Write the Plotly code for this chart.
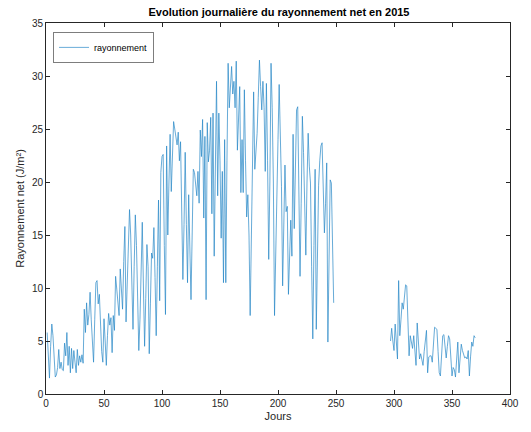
import plotly.graph_objects as go

# Segment 1: days starting at 1
seg1_start = 1
seg1_values = [
    5.8, 3.5, 1.5, 4.5, 6.6, 5.5, 4.0, 1.6, 1.8, 2.5,
    4.2, 2.4, 3.0, 2.3, 2.2, 4.8, 3.6, 5.8, 2.7, 4.5,
    2.0, 4.3, 2.4, 4.1, 3.0, 2.0, 4.2, 2.7, 3.6, 3.0,
    3.7, 2.9, 8.0, 5.8, 8.6, 6.5, 7.5, 9.6, 7.0, 4.5,
    3.0, 7.0, 10.5, 10.7, 8.5, 9.4, 5.8, 4.0, 3.0, 7.1,
    5.0, 2.7, 5.5, 7.6, 6.5, 7.2, 3.9, 7.4, 6.0, 11.1,
    9.9, 8.5, 7.4, 11.8, 9.1, 8.0, 12.5, 15.8, 6.8, 10.0,
    14.5, 17.4, 15.0, 9.0, 6.1, 12.0, 16.9, 14.0, 8.0, 4.1,
    7.0, 12.0, 16.2, 10.0, 4.5, 9.0, 14.1, 12.0, 3.8, 8.5,
    13.3, 12.8, 15.7, 11.0, 5.5, 12.0, 18.3, 8.8, 20.9, 22.4,
    22.6, 14.0, 7.5, 23.4, 15.0, 20.0, 24.5, 19.1, 22.0, 25.7,
    25.0, 24.0, 23.5, 24.7, 22.0, 23.8, 15.0, 10.8, 16.0, 22.8,
    16.0, 10.5, 18.8, 14.0, 8.9, 15.0, 21.2, 20.9, 19.5, 18.7,
    21.0, 18.0, 24.9, 22.4, 25.9, 16.6, 24.3, 8.9, 25.6, 21.9,
    23.0, 26.1, 17.0, 26.5, 13.0, 22.0, 29.5, 18.7, 26.5, 22.0,
    14.7, 21.0, 10.5, 24.0, 10.5, 22.0, 31.2, 27.0, 29.0, 30.9,
    28.3, 29.5, 27.0, 31.4, 23.0, 26.0, 29.0, 19.0, 24.0, 19.0,
    28.7, 22.0, 16.7, 18.8, 15.0, 7.4, 16.0, 24.0, 28.5, 21.2,
    23.0, 24.6, 28.0, 31.5, 29.0, 26.8, 29.5, 27.0, 21.0, 29.3,
    22.0, 12.7, 20.0, 31.2, 27.0, 20.0, 7.4, 14.0, 20.0, 24.0,
    29.2, 25.0, 19.6, 10.2, 15.0, 21.6, 17.2, 17.7, 9.4, 13.0,
    16.4, 13.0, 24.5, 15.6, 22.0, 26.8, 27.1, 20.0, 11.1, 18.0,
    26.2, 22.8, 18.0, 13.1, 20.0, 24.6, 21.5, 19.9, 12.0, 5.2,
    14.0, 21.2, 6.1, 13.0, 19.7, 22.0, 23.4, 23.7, 19.0, 15.2,
    18.0, 21.8, 4.9, 14.0, 20.2, 19.9, 14.0, 8.6,
]

# Segment 2: days starting at 297
seg2_start = 297
seg2_values = [
    5.0, 6.2, 5.0, 4.1, 6.6, 5.0, 3.3, 10.7, 5.5, 7.0,
    8.6, 8.0, 9.5, 10.3, 10.2, 7.0, 3.6, 5.5, 4.8, 4.3,
    5.5, 4.0, 2.7, 6.7, 4.5, 3.3, 3.8, 3.2, 2.7, 4.0,
    5.2, 6.0, 2.0, 3.5, 3.6, 3.6, 3.0, 4.5, 6.3, 6.2,
    6.1, 4.0, 2.0, 1.7, 3.5, 5.5, 5.6, 4.5, 3.4, 4.5,
    5.5, 5.2, 3.5, 1.7, 2.5, 2.3, 1.6, 3.0, 4.9, 2.0,
    3.5, 4.7, 4.1, 3.6, 3.4, 3.5, 3.3, 4.1, 1.7, 3.5,
    4.9, 4.5, 5.5, 5.3,
]

x_ticks = [0, 50, 100, 150, 200, 250, 300, 350, 400]
y_ticks = [0, 5, 10, 15, 20, 25, 30, 35]

seg1_days = list(range(seg1_start, seg1_start + len(seg1_values)))
seg2_days = list(range(seg2_start, seg2_start + len(seg2_values)))
x = seg1_days + [None] + seg2_days
y = seg1_values + [None] + seg2_values

axis_color = "#262626"
font_family = "Liberation Sans, Arial, sans-serif"

fig = go.Figure()
fig.add_trace(go.Scatter(
    x=x, y=y, mode="lines", name="rayonnement",
    line=dict(color="#0072BD", width=0.7),
    opacity=0.85,
    connectgaps=False,
))

fig.update_layout(
    width=531, height=432,
    margin=dict(l=46, r=19, t=23, b=36),
    paper_bgcolor="white", plot_bgcolor="white",
    font=dict(family=font_family, size=10, color=axis_color),
    title=dict(
        text="<b>Evolution journalière du rayonnement net en 2015</b>",
        x=(46 + 512) / 2 / 531, xanchor="center",
        y=1 - 12 / 432, yanchor="middle",
        font=dict(size=11, color="#000000", family=font_family),
    ),
    showlegend=True,
    legend=dict(
        x=0.016, y=0.975, xanchor="left", yanchor="top",
        bgcolor="white", bordercolor="#262626", borderwidth=0.6,
        font=dict(size=9, color="#000000", family=font_family),
        itemwidth=30, tracegroupgap=0,
    ),
)

fig.update_xaxes(
    range=[0, 400], tickvals=x_ticks,
    ticks="inside", ticklen=4, tickcolor=axis_color, tickwidth=0.6,
    showline=True, linecolor=axis_color, linewidth=0.6, mirror="ticks",
    showgrid=False, zeroline=False,
    title=dict(text="Jours", font=dict(size=11, color=axis_color), standoff=4),
    tickfont=dict(size=10, color=axis_color),
)
fig.update_yaxes(
    range=[0, 35], tickvals=y_ticks,
    ticks="inside", ticklen=4, tickcolor=axis_color, tickwidth=0.6,
    showline=True, linecolor=axis_color, linewidth=0.6, mirror="ticks",
    showgrid=False, zeroline=False,
    title=dict(text="Rayonnement net (J/m²)", font=dict(size=11, color=axis_color), standoff=5),
    tickfont=dict(size=10, color=axis_color),
)

fig.write_html("out.html")
